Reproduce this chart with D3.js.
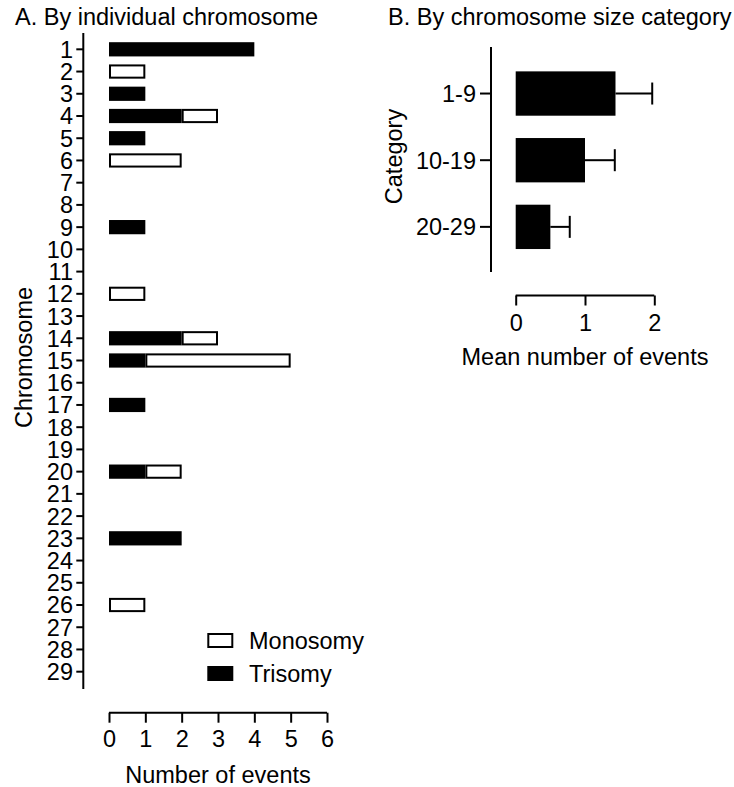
<!DOCTYPE html>
<html>
<head>
<meta charset="utf-8">
<script src="https://cdn.jsdelivr.net/npm/d3@7"></script>
<style>
  html, body { margin: 0; padding: 0; background: #fff; }
  svg { display: block; }
  text { font-family: "Liberation Sans", Arial, sans-serif; fill: #000; }
</style>
</head>
<body>
<script>
// Panel A: events per chromosome, split by type
const chromosomes = [1,2,3,4,5,6,7,8,9,10,11,12,13,14,15,16,17,18,19,20,21,22,23,24,25,26,27,28,29];
const trisomy  = [4,0,1,2,1,0,0,0,1,0,0,0,0,2,1,0,1,0,0,1,0,0,2,0,0,0,0,0,0];
const monosomy = [0,1,0,1,0,2,0,0,0,0,0,1,0,1,4,0,0,0,0,1,0,0,0,0,0,1,0,0,0];
const eventTicks = [0,1,2,3,4,5,6];

// Panel B: mean events per size category with error
const sizeCategories = ["1-9","10-19","20-29"];
const meanEvents = [1.44, 1.0, 0.5];
const meanError  = [0.53, 0.43, 0.28];
const meanTicks = [0,1,2];

const W = 734, H = 787;
const FS = 23.5;
const SW = 2;

const svg = d3.select("body").append("svg").attr("width", W).attr("height", H);
svg.append("rect").attr("width", W).attr("height", H).attr("fill", "#fff");

// ---------- Panel A ----------
const xA = d3.scaleLinear().domain([0, 6]).range([109, 327]);
const yA = d3.scaleBand().domain(chromosomes).range([38.2, 682.8])
  .paddingInner(0.36).paddingOuter(0.18);

svg.append("text").attr("x", 15).attr("y", 25).attr("font-size", FS)
  .text("A. By individual chromosome");

const rows = chromosomes.map((c, i) => ({ c, t: trisomy[i], m: monosomy[i] }));

const gBars = svg.append("g");
// trisomy segments (solid)
gBars.selectAll("rect.tri").data(rows.filter(d => d.t > 0)).join("rect")
  .attr("class", "tri")
  .attr("x", d => xA(0) + SW / 2)
  .attr("y", d => yA(d.c) + SW / 2)
  .attr("width", d => xA(d.t) - xA(0) - SW)
  .attr("height", yA.bandwidth() - SW)
  .attr("fill", "#000").attr("stroke", "#000").attr("stroke-width", SW);
// monosomy segments (open), stacked after trisomy
gBars.selectAll("rect.mono").data(rows.filter(d => d.m > 0)).join("rect")
  .attr("class", "mono")
  .attr("x", d => xA(d.t) + SW / 2)
  .attr("y", d => yA(d.c) + SW / 2)
  .attr("width", d => xA(d.t + d.m) - xA(d.t) - SW)
  .attr("height", yA.bandwidth() - SW)
  .attr("fill", "#fff").attr("stroke", "#000").attr("stroke-width", SW);

// y axis (offset spine)
const axYA = svg.append("g").attr("transform", "translate(83.3,0)")
  .call(d3.axisLeft(yA).tickSize(7).tickPadding(3.3));
axYA.select(".domain").remove();
axYA.append("line").attr("x1", 0).attr("x2", 0).attr("y1", 33).attr("y2", 689)
  .attr("stroke", "#000").attr("stroke-width", SW);
axYA.selectAll(".tick line").attr("stroke", "#000").attr("stroke-width", SW);
axYA.selectAll(".tick text").attr("font-size", FS).attr("font-family", null).attr("dy", "0.36em");

// x axis
const axXA = svg.append("g").attr("transform", "translate(0,712.7)")
  .call(d3.axisBottom(xA).tickValues(eventTicks).tickFormat(d3.format("d"))
    .tickSize(10).tickSizeOuter(0).tickPadding(8));
axXA.select(".domain").attr("stroke", "#000").attr("stroke-width", SW)
  .attr("d", `M${xA(0)},0H${xA(6)}`);
axXA.selectAll(".tick line").attr("stroke", "#000").attr("stroke-width", SW);
axXA.selectAll(".tick text").attr("font-size", FS).attr("font-family", null);

svg.append("text").attr("x", 218).attr("y", 775).attr("dy", "0.36em")
  .attr("text-anchor", "middle").attr("font-size", FS).text("Number of events");
svg.append("text").attr("transform", "translate(24,357.5) rotate(-90)")
  .attr("dy", "0.36em").attr("text-anchor", "middle").attr("font-size", FS).text("Chromosome");

// legend
const legend = [
  { label: "Monosomy", fill: "#fff", y: 633 },
  { label: "Trisomy", fill: "#000", y: 666 }
];
const lg = svg.append("g");
lg.selectAll("rect").data(legend).join("rect")
  .attr("x", 207.3 + SW / 2).attr("y", d => d.y + SW / 2)
  .attr("width", 26 - SW).attr("height", 15 - SW)
  .attr("fill", d => d.fill).attr("stroke", "#000").attr("stroke-width", SW);
lg.selectAll("text").data(legend).join("text")
  .attr("x", 249).attr("y", d => d.y + 7.5).attr("dy", "0.36em")
  .attr("font-size", FS).text(d => d.label);

// ---------- Panel B ----------
const xB = d3.scaleLinear().domain([0, 2]).range([515.7, 654.3]);
const yB = d3.scaleBand().domain(sizeCategories).range([60.2, 260.2])
  .paddingInner(0.335).paddingOuter(0.1675);

svg.append("text").attr("x", 388).attr("y", 24.5).attr("font-size", FS)
  .text("B. By chromosome size category");

const catRows = sizeCategories.map((c, i) => ({ c, m: meanEvents[i], e: meanError[i] }));

const gB = svg.append("g");
gB.selectAll("rect").data(catRows).join("rect")
  .attr("x", xB(0)).attr("y", d => yB(d.c))
  .attr("width", d => xB(d.m) - xB(0)).attr("height", yB.bandwidth())
  .attr("fill", "#000");
// error bars: whisker + cap
gB.selectAll("line.whisker").data(catRows).join("line")
  .attr("class", "whisker")
  .attr("x1", d => xB(d.m)).attr("x2", d => xB(d.m + d.e))
  .attr("y1", d => yB(d.c) + yB.bandwidth() / 2).attr("y2", d => yB(d.c) + yB.bandwidth() / 2)
  .attr("stroke", "#000").attr("stroke-width", SW);
gB.selectAll("line.cap").data(catRows).join("line")
  .attr("class", "cap")
  .attr("x1", d => xB(d.m + d.e)).attr("x2", d => xB(d.m + d.e))
  .attr("y1", d => yB(d.c) + yB.bandwidth() / 2 - 11).attr("y2", d => yB(d.c) + yB.bandwidth() / 2 + 11)
  .attr("stroke", "#000").attr("stroke-width", SW);

const axYB = svg.append("g").attr("transform", "translate(491,0)")
  .call(d3.axisLeft(yB).tickSize(11).tickPadding(4));
axYB.select(".domain").remove();
axYB.append("line").attr("x1", 0).attr("x2", 0).attr("y1", 47).attr("y2", 272)
  .attr("stroke", "#000").attr("stroke-width", SW);
axYB.selectAll(".tick line").attr("stroke", "#000").attr("stroke-width", SW);
axYB.selectAll(".tick text").attr("font-size", FS).attr("font-family", null).attr("dy", "0.36em");

const axXB = svg.append("g").attr("transform", "translate(0,295.5)")
  .call(d3.axisBottom(xB).tickValues(meanTicks).tickFormat(d3.format("d"))
    .tickSize(10).tickSizeOuter(0).tickPadding(9));
axXB.select(".domain").attr("stroke", "#000").attr("stroke-width", SW)
  .attr("d", `M${xB(0)},0H${xB(2)}`);
axXB.selectAll(".tick line").attr("stroke", "#000").attr("stroke-width", SW);
axXB.selectAll(".tick text").attr("font-size", FS).attr("font-family", null);

svg.append("text").attr("x", 585).attr("y", 357).attr("dy", "0.36em")
  .attr("text-anchor", "middle").attr("font-size", FS).text("Mean number of events");
svg.append("text").attr("transform", "translate(394,156.5) rotate(-90)")
  .attr("dy", "0.36em").attr("text-anchor", "middle").attr("font-size", FS).text("Category");
</script>
</body>
</html>
